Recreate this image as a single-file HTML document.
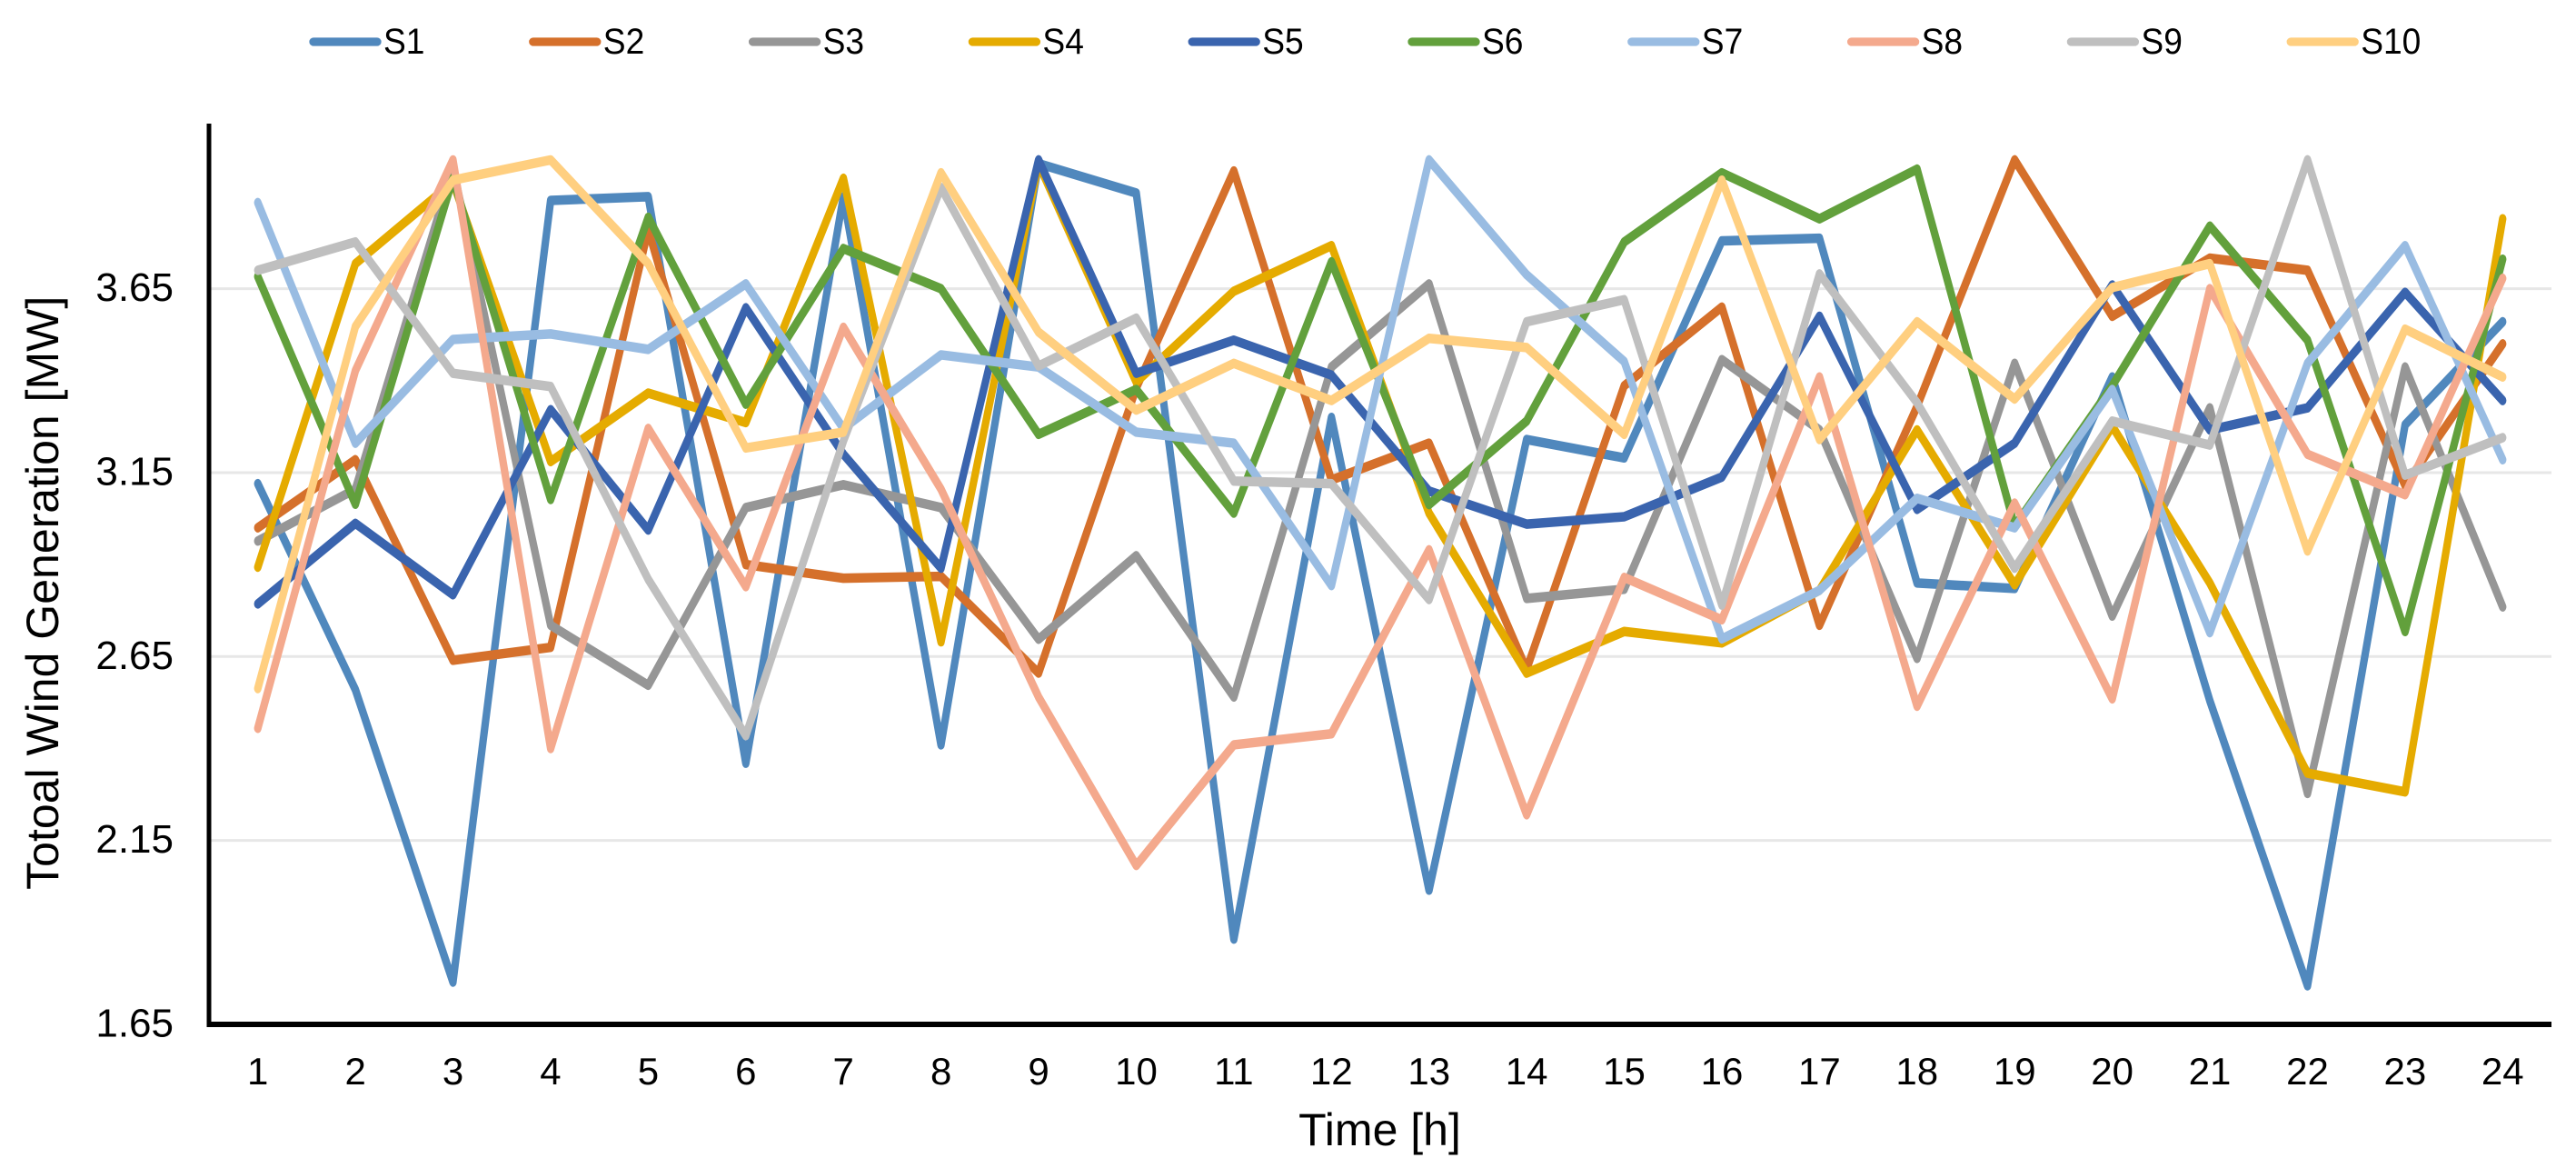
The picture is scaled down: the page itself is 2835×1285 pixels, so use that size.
<!DOCTYPE html>
<html>
<head>
<meta charset="utf-8">
<title>Total Wind Generation</title>
<style>
html,body{margin:0;padding:0;background:#fff;}
svg{display:block;}
text{font-family:"Liberation Sans",sans-serif;fill:#000;}
</style>
</head>
<body>
<svg id="chart" xmlns="http://www.w3.org/2000/svg" width="2835" height="1285" viewBox="0 0 2835 1285">
<rect width="2835" height="1285" fill="#fff"/>
<text transform="translate(64,652.3) rotate(-90)" text-anchor="middle" font-size="50">Totoal Wind Generation [MW]</text>
<text x="1518.5" y="1260" text-anchor="middle" font-size="50">Time [h]</text>
</svg>
<script>
const categories = ["1","2","3","4","5","6","7","8","9","10","11","12","13","14","15","16","17","18","19","20","21","22","23","24"];
const yTicks = [1.65, 2.15, 2.65, 3.15, 3.65];
const seriesNames = ["S1","S2","S3","S4","S5","S6","S7","S8","S9","S10"];
const seriesColors = ["#5088BD","#D5702B","#969696","#E5AB00","#3A64AE","#62A03C","#99BCE2","#F4A98D","#BFBFBF","#FFCF80"];
const s1 = [3.12,2.56,1.765,3.89,3.90,2.36,3.90,2.41,3.99,3.91,1.882,3.30,2.015,3.24,3.19,3.78,3.787,2.85,2.835,3.41,2.53,1.755,3.28,3.56];
const s2 = [3.00,3.185,2.64,2.675,3.81,2.90,2.863,2.868,2.605,3.38,3.97,3.13,3.23,2.615,3.386,3.60,2.735,3.33,4.00,3.575,3.733,3.70,3.115,3.50];
const s3 = [2.964,3.105,3.98,2.735,2.572,3.055,3.117,3.055,2.697,2.924,2.54,3.437,3.663,2.808,2.833,3.457,3.266,2.645,3.447,2.76,3.326,2.278,3.437,2.785];
const s4 = [2.893,3.718,3.94,3.18,3.366,3.286,3.95,2.69,3.99,3.396,3.643,3.767,3.04,2.605,2.718,2.687,2.83,3.266,2.845,3.276,2.85,2.333,2.282,3.84];
const s5 = [2.793,3.012,2.818,3.321,2.994,3.598,3.20,2.89,4.00,3.42,3.51,3.415,3.10,3.01,3.03,3.138,3.575,3.05,3.23,3.66,3.266,3.326,3.64,3.346];
const s6 = [3.683,3.064,3.95,3.077,3.844,3.336,3.759,3.65,3.254,3.376,3.04,3.723,3.063,3.29,3.777,3.965,3.84,3.975,3.004,3.386,3.82,3.51,2.718,3.73];
const s7 = [3.884,3.23,3.512,3.527,3.485,3.663,3.27,3.47,3.437,3.26,3.23,2.843,4.00,3.688,3.452,2.698,2.83,3.08,3.00,3.376,2.715,3.447,3.767,3.185];
const s8 = [2.455,3.427,4.00,2.40,3.27,2.84,3.545,3.105,2.54,2.082,2.41,2.44,2.94,2.22,2.865,2.75,3.41,2.515,3.067,2.535,3.65,3.20,3.09,3.678];
const s9 = [3.70,3.777,3.42,3.384,2.86,2.435,3.236,3.925,3.44,3.57,3.127,3.12,2.805,3.56,3.62,2.79,3.69,3.34,2.89,3.29,3.225,4.00,3.143,3.245];
const s10 = [2.563,3.547,3.945,4.00,3.718,3.217,3.26,3.965,3.532,3.32,3.447,3.346,3.515,3.49,3.254,3.945,3.24,3.56,3.35,3.653,3.718,2.937,3.54,3.41];
const seriesValues = [s1,s2,s3,s4,s5,s6,s7,s8,s9,s10];

const svg = document.getElementById('chart');
const NS = 'http://www.w3.org/2000/svg';
const plotLeft = 230, plotRight = 2808, plotTop = 136, plotBottom = 1127;
const lineStretch = 1.28;
function xScale(i){ return plotLeft + (plotRight - plotLeft) * (i + 0.5) / categories.length; }
function yScale(v){ return plotBottom - (v - yTicks[0]) * 404.7; }
function make(tag, attrs, text){
  const el = document.createElementNS(NS, tag);
  for (const k in attrs) el.setAttribute(k, attrs[k]);
  if (text !== undefined) el.textContent = text;
  svg.appendChild(el);
  return el;
}
yTicks.forEach(function(t){
  if (t !== yTicks[0]) {
    const grid = make('line', {x1: plotLeft, x2: plotRight, y1: yScale(t), y2: yScale(t), stroke: '#E7E7E7', 'stroke-width': 3});
    
    
  }
  const lab = make('text', {x: 191, y: yScale(t) + 13.5, 'text-anchor': 'end', 'font-size': 44}, t.toFixed(2));
  
  
});
categories.forEach(function(c, i){
  const lab = make('text', {x: xScale(i), y: 1193, 'text-anchor': 'middle', 'font-size': 42}, c);
  
  
});
seriesValues.forEach(function(vals, s){
  const pts = vals.map(function(v, i){ return xScale(i).toFixed(1) + ',' + (yScale(v) / lineStretch).toFixed(2); }).join(' ');
  const line = make('polyline', {points: pts, transform: 'scale(1,' + lineStretch + ')', fill: 'none', stroke: seriesColors[s], 'stroke-width': 8.2, 'stroke-linejoin': 'round', 'stroke-linecap': 'round'});
  
  
});
const axisY = make('line', {x1: plotLeft, x2: plotLeft, y1: plotTop, y2: plotBottom + 3, stroke: '#000', 'stroke-width': 5});


const axisX = make('line', {x1: plotLeft - 2.5, x2: plotRight, y1: plotBottom, y2: plotBottom, stroke: '#000', 'stroke-width': 6});


seriesNames.forEach(function(n, s){
  const lx = 345 + s * 241.8;
  const sw = make('line', {x1: lx, x2: lx + 70, y1: 46, y2: 46, stroke: seriesColors[s], 'stroke-width': 9.3, 'stroke-linecap': 'round'});
  
  
  const lab = make('text', {transform: 'translate(' + (lx + 77) + ',59) scale(0.93,1)', 'font-size': 40}, n);
  
  
});
</script>
</body>
</html>
